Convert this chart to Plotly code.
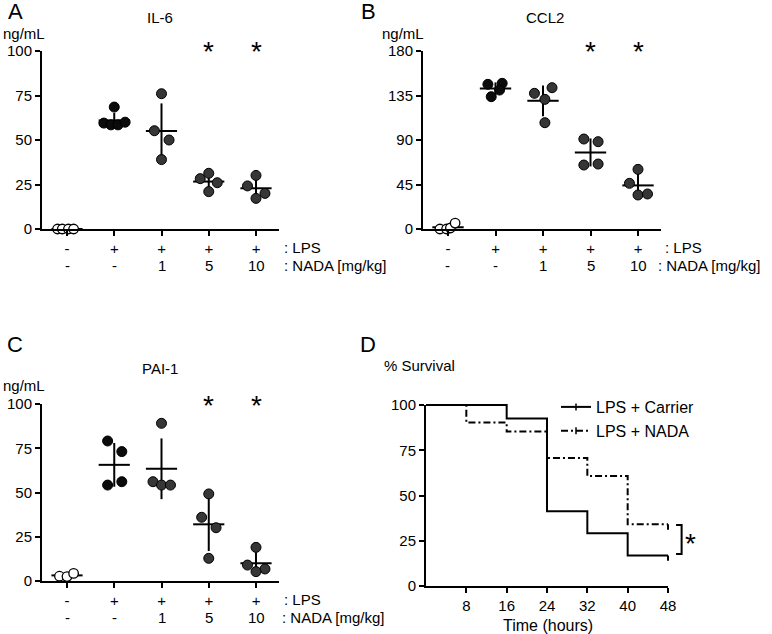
import numpy as np
import plotly.graph_objects as go

# ---------------- data ----------------
lps_labels = ["-", "+", "+", "+", "+"]
nada_labels = ["-", "-", "1", "5", "10"]

il6_values = [[0, 0, 0, 0],
              [68.5, 59.5, 58.5, 58.5, 60.0],
              [76.0, 55.2, 50.0, 39.0],
              [28.3, 31.3, 26.0, 21.0],
              [24.2, 30.1, 20.0, 17.2]]
il6_offsets = [[-0.2, -0.1, 0.03, 0.14],
               [0.0, -0.22, -0.07, 0.08, 0.23],
               [0.0, -0.15, 0.16, 0.0],
               [-0.18, 0.0, 0.18, 0.0],
               [-0.18, 0.0, 0.19, 0.0]]

ccl2_values = [[0, 0, 1.0, 6.0],
               [146.3, 147.3, 140.5, 133.8],
               [137.2, 142.9, 131.1, 107.5],
               [91.0, 88.3, 64.7, 65.7],
               [60.3, 46.2, 34.4, 35.4]]
ccl2_offsets = [[-0.17, -0.03, 0.05, 0.15],
                [-0.16, 0.14, 0.085, -0.09],
                [-0.18, 0.19, 0.04, 0.04],
                [-0.14, 0.16, -0.14, 0.16],
                [0.0, -0.18, 0.0, 0.2]]

pai1_values = [[2.7, 2.5, 4.3],
               [79.1, 73.1, 54.2, 56.1],
               [89.1, 56.1, 54.2, 54.2],
               [49.2, 36.0, 30.1, 12.8],
               [19.0, 9.0, 6.8, 5.3]]
pai1_offsets = [[-0.16, 0.0, 0.14],
                [-0.14, 0.16, -0.14, 0.16],
                [0.0, -0.18, 0.0, 0.19],
                [0.0, -0.15, 0.155, 0.0],
                [0.0, -0.18, 0.19, 0.0]]

surv_time = [0, 8, 16, 24, 32, 40, 48]
surv_carrier = [100, 100, 92.6, 41.3, 29.2, 16.9, 16.9]
surv_nada = [100, 90.3, 85.3, 70.7, 60.8, 34.1, 34.1]
surv_ticks = [8, 16, 24, 32, 40, 48]

# ---------------- styling ----------------
W, H = 772, 634
FONT = "Liberation Sans, Arial, Helvetica, sans-serif"
FS = 15
STAR_FS = 28


def fx(p):
    return p / W


def fy(p):
    return 1 - p / H


group_fill = ["white", "#0b0b0b", "#363636", "#363636", "#363636"]
group_size = [9.5, 10, 10, 10, 10]

fig = go.Figure()
annotations = []


def txt(x_px, y_px, text, size=FS, anchor="center"):
    annotations.append(dict(x=fx(x_px), y=fy(y_px), xref="paper", yref="paper", text=text,
                            showarrow=False, xanchor=anchor, yanchor="middle",
                            font=dict(size=size, family=FONT, color="black")))


axis_common = dict(showline=True, linewidth=2, linecolor="black", ticks="outside",
                   ticklen=5, tickwidth=2, tickcolor="black", showgrid=False,
                   zeroline=False, automargin=False,
                   tickfont=dict(size=FS, family=FONT, color="black"))


def add_dot_panel(idx, values, offsets, title, ymax, ytickvals,
                  xdom_px, ydom_px, title_px, unit_px, lps_px, nada_px, letter, letter_px):
    xa = "x" if idx == 1 else f"x{idx}"
    ya = "y" if idx == 1 else f"y{idx}"
    # mean +- SD lines
    lx, ly = [], []
    for g, vals in enumerate(values):
        v = np.array(vals, dtype=float)
        m = v.mean()
        sd = v.std(ddof=1)
        lx += [g - 0.33, g + 0.33, None, g, g, None]
        ly += [m, m, None, m - sd, m + sd, None]
    fig.add_trace(go.Scatter(x=lx, y=ly, mode="lines", xaxis=xa, yaxis=ya,
                             line=dict(color="black", width=2),
                             showlegend=False, hoverinfo="skip", cliponaxis=False))
    for g, vals in enumerate(values):
        xs = [g + o for o in offsets[g]]
        fig.add_trace(go.Scatter(
            x=xs, y=vals, mode="markers", xaxis=xa, yaxis=ya, cliponaxis=False,
            marker=dict(size=group_size[g], color=group_fill[g],
                        line=dict(color="black", width=1.3 if g == 0 else 1)),
            showlegend=False))
    # significance stars
    for g in (3, 4):
        annotations.append(dict(x=g, y=ymax, xref=xa, yref=ya, text="*", showarrow=False,
                                font=dict(size=STAR_FS, family=FONT, color="black"),
                                yanchor="middle", xanchor="center", yshift=-1))
    # second row of x labels
    for g, t in enumerate(nada_labels):
        annotations.append(dict(x=g, y=fy(xdom_px[2] + 36), xref=xa, yref="paper", text=t,
                                showarrow=False, font=dict(size=FS, family=FONT, color="black"),
                                xanchor="center", yanchor="middle"))
    txt(lps_px, xdom_px[2] + 18, ": LPS", anchor="left")
    txt(nada_px, xdom_px[2] + 36, ": NADA [mg/kg]", anchor="left")
    txt(title_px[0], title_px[1], title)
    txt(unit_px[0], unit_px[1], "ng/mL", anchor="left")
    txt(letter_px[0], letter_px[1], letter, size=22)

    x0, x1, _ = xdom_px
    cat0 = x0 + 25
    step = (x1 - 23 - cat0) / 4
    xr = [(x0 - cat0) / step, (x1 - cat0) / step]
    xkey = "xaxis" if idx == 1 else f"xaxis{idx}"
    ykey = "yaxis" if idx == 1 else f"yaxis{idx}"
    fig.update_layout(**{
        xkey: dict(domain=[fx(x0), fx(x1)], range=xr, anchor=ya, tickvals=list(range(5)),
                   ticktext=lps_labels, **axis_common),
        ykey: dict(domain=[fy(ydom_px[1]), fy(ydom_px[0])], range=[0, ymax], anchor=xa,
                   tickvals=ytickvals, **axis_common),
    })


add_dot_panel(1, il6_values, il6_offsets, "IL-6", 100, [0, 25, 50, 75, 100],
              (42, 279, 229), (51, 229), (160, 17), (0.5, 33), 282, 282, "A", (15, 12))
add_dot_panel(2, ccl2_values, ccl2_offsets, "CCL2", 180, [0, 45, 90, 135, 180],
              (423, 661, 229), (51, 229), (545, 17), (380, 33), 663, 656, "B", (368, 12))
add_dot_panel(3, pai1_values, pai1_offsets, "PAI-1", 100, [0, 25, 50, 75, 100],
              (42, 279, 581), (404, 581), (160, 368), (0.5, 385), 282, 280, "C", (15, 345))

# ---------------- panel D: survival ----------------
# visible axes (x4/y4): 0..48 h on 426..668 px, 0..100 % on 586..405 px
DX0, DX1, DY0, DY1 = 426, 668, 586, 405
# invisible drawing axes (x5/y5) with the same scale but a larger area, so lines are not clipped
EX1, EY1, EY0 = 700, 396, 592
xs_per_px = 48 / (DX1 - DX0)
ys_per_px = 100 / (DY0 - DY1)
x5_range = [0, (EX1 - DX0) * xs_per_px]
y5_range = [-(EY0 - DY0) * ys_per_px, 100 + (DY1 - EY1) * ys_per_px]

DASH = "7px,3px,2px,3px"
# legend entries (on the visible axes so that subplot is created)
fig.add_trace(go.Scatter(x=[None], y=[None], mode="lines+markers", name="LPS + Carrier",
                         line=dict(color="black", width=2),
                         marker=dict(symbol="line-ns", size=5, line=dict(color="black", width=1.5)),
                         xaxis="x4", yaxis="y4"))
fig.add_trace(go.Scatter(x=[None], y=[None], mode="lines+markers", name="LPS + NADA",
                         line=dict(color="black", width=2, dash=DASH),
                         marker=dict(symbol="line-ns", size=5, line=dict(color="black", width=1.5)),
                         xaxis="x4", yaxis="y4"))

fig.add_trace(go.Scatter(x=surv_time, y=surv_carrier, mode="lines", line_shape="hv",
                         line=dict(color="black", width=2), xaxis="x5", yaxis="y5",
                         showlegend=False, name="LPS + Carrier"))
fig.add_trace(go.Scatter(x=surv_time, y=surv_nada, mode="lines", line_shape="hv",
                         line=dict(color="black", width=2, dash=DASH),
                         xaxis="x5", yaxis="y5", showlegend=False, name="LPS + NADA"))
# censor marks at the end of the curves
tick_len = 3
cx = [surv_time[-1], surv_time[-1], None, surv_time[-1], surv_time[-1]]
cy = [surv_carrier[-1], surv_carrier[-1] - tick_len, None, surv_nada[-1], surv_nada[-1] - tick_len]
fig.add_trace(go.Scatter(x=cx, y=cy, mode="lines", line=dict(color="black", width=2),
                         xaxis="x5", yaxis="y5", showlegend=False, hoverinfo="skip"))
# bracket with significance (spans the two final survival values)
bx0, bx1 = 49.6, 50.7
top, bot = surv_nada[-1] - 0.4, surv_carrier[-1] + 0.8
fig.add_trace(go.Scatter(x=[bx0, bx1, bx1, bx0], y=[top, top, bot, bot], mode="lines",
                         line=dict(color="black", width=2), xaxis="x5", yaxis="y5",
                         showlegend=False, hoverinfo="skip"))

txt(690, 543, "*", size=STAR_FS)
txt(382, 365, "% Survival", anchor="left")
txt(368, 345, "D", size=22)
txt(548, 625, "Time (hours)", size=16)

fig.update_layout(
    xaxis4=dict(domain=[fx(DX0), fx(DX1)], range=[0, 48], anchor="y4", tickvals=surv_ticks,
                **axis_common),
    yaxis4=dict(domain=[fy(DY0), fy(DY1)], range=[0, 100], anchor="x4",
                tickvals=[0, 25, 50, 75, 100], **axis_common),
    xaxis5=dict(domain=[fx(DX0), fx(EX1)], range=x5_range, anchor="y5", visible=False,
                automargin=False),
    yaxis5=dict(domain=[fy(EY0), fy(EY1)], range=y5_range, anchor="x5", visible=False,
                automargin=False),
)

fig.update_layout(
    template="none",
    width=W, height=H, autosize=False,
    margin=dict(l=0, r=0, t=0, b=0, pad=0),
    paper_bgcolor="white", plot_bgcolor="rgba(0,0,0,0)",
    font=dict(family=FONT, size=FS, color="black"),
    annotations=annotations,
    showlegend=True,
    legend=dict(x=fx(556), y=fy(390), xanchor="left", yanchor="top",
                bgcolor="rgba(0,0,0,0)", borderwidth=0, tracegroupgap=0,
                font=dict(size=16, family=FONT, color="black")),
)

fig.write_html("out.html", config={"displayModeBar": False},
               post_script="document.body.style.margin='0';")
